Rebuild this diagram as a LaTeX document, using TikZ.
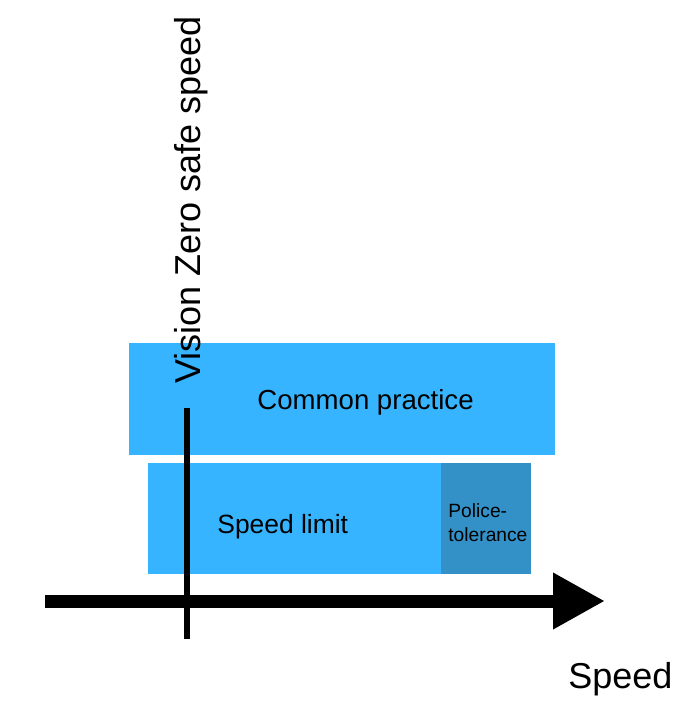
\documentclass[tikz,border=0pt]{standalone}
\usepackage{fontspec}
\setmainfont{Liberation Sans}
\usepackage{tikz}
\usetikzlibrary{arrows.meta,positioning}
\definecolor{bandblue}{RGB}{54,180,255}
\definecolor{policeblue}{RGB}{52,145,200}

\begin{document}
\begin{tikzpicture}[x=0.5pt,y=-0.5pt,
  band/.style={fill=bandblue,draw=none,inner sep=0pt,anchor=north west},
  lbl/.style={inner sep=0pt,anchor=base west,text=black},
  axis/.style={line width=6.5pt,-{Triangle[length=26pt,width=26.5pt]}}
]
\useasboundingbox (0,0) rectangle (698,704);
% bands
\node[band,minimum width=213pt,minimum height=56pt] (practice) at (129,343) {};
\node[band,minimum width=146.5pt,minimum height=55.5pt] (limit) at (148,463) {};
\node[band,fill=policeblue,minimum width=45pt,minimum height=55.5pt] (police) at (441,463) {};
\node[lbl,font=\fontsize{13.8}{16}\selectfont] (practicetxt) at (257,409) {Common practice};
\node[lbl,font=\fontsize{13.2}{16}\selectfont] (limittxt) at (217,533) {Speed limit};
\node[lbl,anchor=west,align=left,font=\fontsize{9.6}{12}\selectfont] (policetxt) at (448,523) {Police-\\tolerance};
% safe speed marker
\coordinate (safetop) at (187,408);
\coordinate (safebot) at (187,639);
\draw[line width=3pt] (safetop) -- (safebot);
\node[lbl,rotate=90,font=\fontsize{18}{22}\selectfont] (safetxt) at (200,384) {Vision Zero safe speed};
% speed axis
\coordinate (axstart) at (45,601);
\coordinate (axend) at (605,601);
\draw[axis] (axstart) -- (axend);
\node[lbl,font=\fontsize{18}{22}\selectfont] (speedtxt) at (568,688) {Speed};
\end{tikzpicture}
\end{document}
